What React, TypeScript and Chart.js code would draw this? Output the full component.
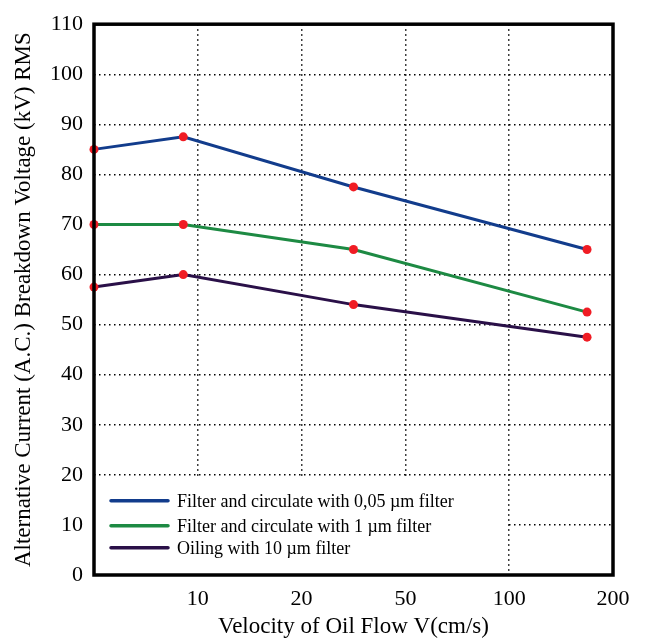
import React, { useEffect, useRef } from "react";
import { Chart, registerables } from "chart.js";

Chart.register(...registerables);

// Axis positions (equal-spaced categorical log-like axis): index -> label
const xTickLabels = ["", "10", "20", "50", "100", "200"];
// Point positions on the x axis (in axis units)
const xPositions = [0, 0.86, 2.5, 4.75];

const seriesLabels = [
  "Filter and circulate with 0,05 µm filter",
  "Filter and circulate with 1 µm filter",
  "Oiling with 10 µm filter",
];
const filter005 = [85, 87.5, 77.5, 65];
const filter1 = [70, 70, 65, 52.5];
const oiling10 = [57.5, 60, 54, 47.5];

const seriesColors = ["#123c8c", "#1d8a43", "#2a1048"];

const FONT = "'Liberation Serif', 'Times New Roman', serif";

const overlayPlugin = {
  id: "overlay",
  afterDatasetsDraw(chart: any) {
    const { ctx, chartArea, scales } = chart;
    const xs = scales.x;
    const ys = scales.y;
    ctx.save();
    // legend box (white, covering grid)
    const boxLeft = chartArea.left;
    const boxRight = xs.getPixelForValue(4) - 1.5;
    const boxTop = ys.getPixelForValue(20) + 4;
    const boxBottom = chartArea.bottom;
    ctx.fillStyle = "#ffffff";
    ctx.fillRect(boxLeft, boxTop, boxRight - boxLeft, boxBottom - boxTop);
    // legend items
    const items = chart.data.datasets;
    const rowY = [boxTop + 22, boxTop + 47, boxTop + 69];
    ctx.font = `18px ${FONT}`;
    ctx.textBaseline = "middle";
    ctx.textAlign = "left";
    items.forEach((ds: any, i: number) => {
      const y = rowY[i];
      ctx.strokeStyle = ds.borderColor;
      ctx.lineWidth = 3.5;
      ctx.lineCap = "round";
      ctx.beginPath();
      ctx.moveTo(chartArea.left + 17, y);
      ctx.lineTo(chartArea.left + 74, y);
      ctx.stroke();
      ctx.fillStyle = "#000";
      ctx.fillText(ds.label, chartArea.left + 83, y + 1);
    });
    // frame
    ctx.strokeStyle = "#000";
    ctx.lineWidth = 3.5;
    ctx.lineCap = "butt";
    ctx.strokeRect(
      chartArea.left,
      chartArea.top,
      chartArea.right - chartArea.left,
      chartArea.bottom - chartArea.top
    );
    ctx.restore();
  },
};

export default function App() {
  const canvasRef = useRef<HTMLCanvasElement | null>(null);

  useEffect(() => {
    if (!canvasRef.current) return;
    const mk = (vals: number[]) => xPositions.map((x, i) => ({ x, y: vals[i] }));
    const allSeries = [filter005, filter1, oiling10];
    const chart = new Chart(canvasRef.current, {
      type: "line",
      data: {
        datasets: allSeries.map((vals, i) => ({
          label: seriesLabels[i],
          data: mk(vals),
          borderColor: seriesColors[i],
          backgroundColor: seriesColors[i],
          borderWidth: 3,
          pointRadius: 4.5,
          pointBackgroundColor: "#f01c24",
          pointBorderWidth: 0,
          pointHoverRadius: 4.5,
          tension: 0,
          fill: false,
          clip: false as any,
        })),
      },
      options: {
        responsive: false,
        animation: false,
        layout: { padding: { top: 19, right: 33, left: 0, bottom: 0 } },
        plugins: {
          legend: { display: false },
          tooltip: { enabled: false },
        },
        scales: {
          x: {
            type: "linear",
            min: 0,
            max: 5,
            afterFit: (s: any) => {
              s.height = 66;
            },
            ticks: {
              stepSize: 1,
              autoSkip: false,
              maxRotation: 0,
              padding: 11,
              color: "#000",
              font: { family: FONT, size: 22 },
              callback: (v: any) => xTickLabels[Math.round(Number(v))] ?? "",
            },
            grid: {
              drawTicks: false,
              lineWidth: 1.5,
              color: (c: any) =>
                c.tick && (c.tick.value === 0 || c.tick.value === 5)
                  ? "rgba(0,0,0,0)"
                  : "#000",
            },
            border: { display: false, dash: [1.5, 3.5] },
            title: {
              display: true,
              text: "Velocity of Oil Flow V(cm/s)",
              color: "#000",
              font: { family: FONT, size: 23 },
              padding: { top: 0, bottom: 0 },
            },
          },
          y: {
            type: "linear",
            min: 0,
            max: 110,
            afterFit: (s: any) => {
              s.width = 94;
            },
            ticks: {
              stepSize: 10,
              padding: 11,
              color: "#000",
              font: { family: FONT, size: 22 },
            },
            grid: {
              drawTicks: false,
              lineWidth: 1.5,
              color: (c: any) =>
                c.tick && (c.tick.value === 0 || c.tick.value === 110)
                  ? "rgba(0,0,0,0)"
                  : "#000",
            },
            border: { display: false, dash: [1.5, 3.5] },
            title: {
              display: true,
              text: "Alternative Current (A.C.) Breakdown Voltage (kV) RMS",
              color: "#000",
              font: { family: FONT, size: 23 },
              padding: { top: 10, bottom: 0 },
            },
          },
        },
      },
      plugins: [overlayPlugin],
    });
    return () => chart.destroy();
  }, []);

  return (
    <div
      style={{
        position: "fixed",
        left: 0,
        top: 0,
        width: 646,
        height: 641,
        background: "#fff",
      }}
    >
      <canvas ref={canvasRef} width={646} height={641} />
    </div>
  );
}
